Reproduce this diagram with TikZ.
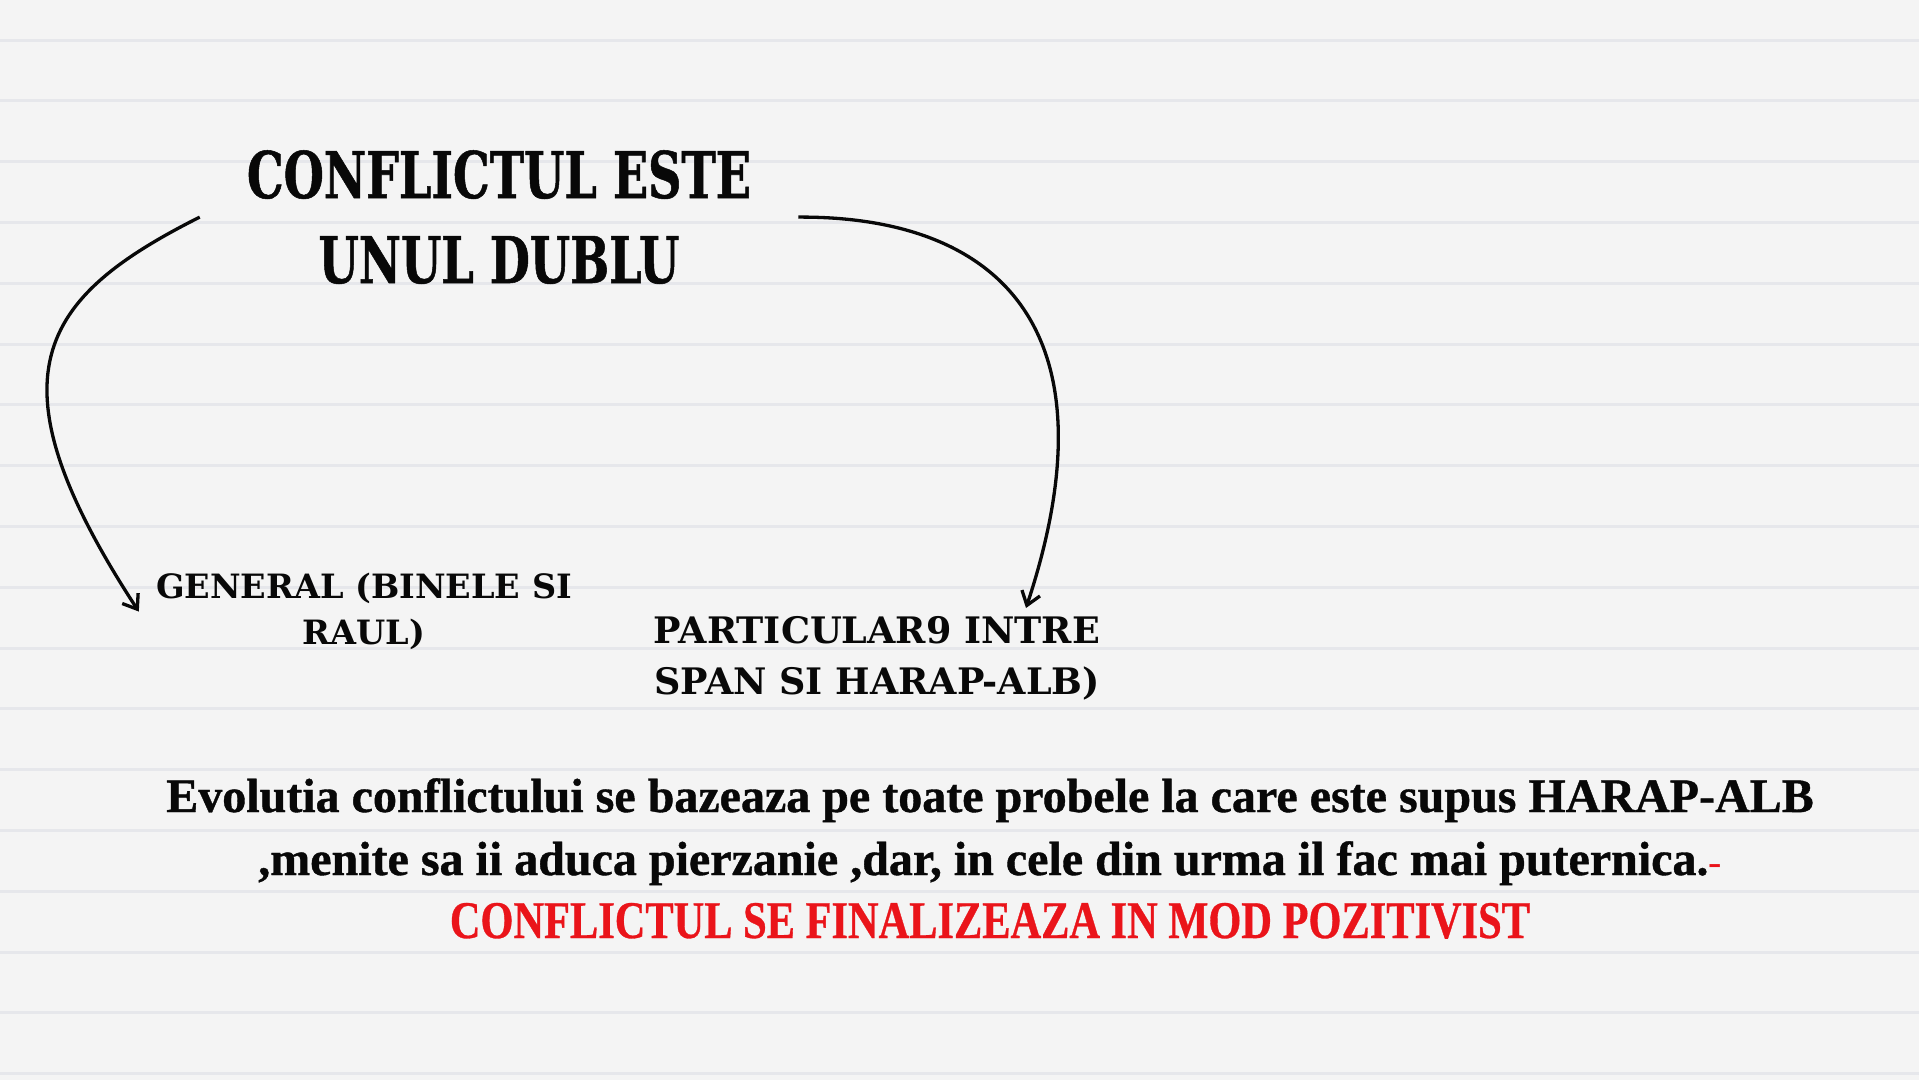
\documentclass[tikz,border=0pt]{standalone}
\usepackage{fontspec}
\usetikzlibrary{arrows.meta}
\newfontfamily\titlefont[FakeStretch=0.716,FakeBold=0.8]{DejaVu Serif}
\newfontfamily\labelfont{DejaVu Serif}
\newfontfamily\bodyfont[FakeBold=0.8]{Liberation Serif}
\newfontfamily\dashfont{Liberation Serif}
\newfontfamily\redfont[FakeStretch=0.80,FakeBold=0.6]{Liberation Serif}
\definecolor{bg}{RGB}{244,244,244}
\definecolor{rulecol}{RGB}{230,231,235}
\definecolor{ink}{RGB}{8,8,8}
\definecolor{redtxt}{RGB}{234,20,26}
\begin{document}
\begin{tikzpicture}[x=1pt,y=-1pt,
  ruleline/.style={draw=rulecol, line width=3pt},
  titlebox/.style={font=\titlefont\bfseries\fontsize{64.5}{85}\selectfont, align=center, inner xsep=47pt, inner ysep=0pt, text=ink},
  lbl/.style={font=\labelfont\bfseries\fontsize{33.5}{46}\selectfont, align=center, inner sep=0pt, text=ink},
  lblb/.style={font=\labelfont\bfseries\fontsize{36.5}{51}\selectfont, align=center, inner sep=0pt, text=ink},
  body/.style={font=\bodyfont\bfseries\fontsize{48}{63}\selectfont, align=center, inner sep=0pt, text=ink},
  redline/.style={font=\redfont\bfseries\fontsize{53}{63}\selectfont, inner sep=0pt, text=redtxt},
  conn/.style={draw=ink, line width=3.3pt, -{Straight Barb[length=13pt,width=19pt,line width=3.3pt]}}
]
\useasboundingbox (0,0) rectangle (1919,1080);
\fill[bg] (0,0) rectangle (1919,1080);
\foreach \k in {0,...,17}{\draw[ruleline] (0,{40+60.8*\k}) -- (1919,{40+60.8*\k});}

\node[titlebox, anchor=north] (title) at (499,150) {CONFLICTUL ESTE\\UNUL DUBLU};
\node[lbl, anchor=north] (gen) at (364,573) {GENERAL (BINELE SI\\RAUL)};
\node[lblb, anchor=north] (part) at (877,616) {PARTICULAR9 INTRE\\SPAN SI HARAP-ALB)};
\node[body, anchor=north] (para) at (990,778) {Evolutia conflictului se bazeaza pe toate probele la care este supus HARAP-ALB\\,menite sa ii aduca pierzanie ,dar, in cele din urma il fac mai puternica.\textcolor{redtxt}{\dashfont\mdseries\fontsize{40}{40}\selectfont-}};
\node[redline, anchor=base] (concl) at (990,938) {CONFLICTUL SE FINALIZEAZA IN MOD POZITIVIST};

\draw[conn] (title.west) .. controls (39,298) and (-15,376) .. ([xshift=-17pt]gen.west);
\draw[conn] (title.east) .. controls (1000,216) and (1118,330) .. ([xshift=149pt,yshift=8pt]part.north);
\end{tikzpicture}
\end{document}
